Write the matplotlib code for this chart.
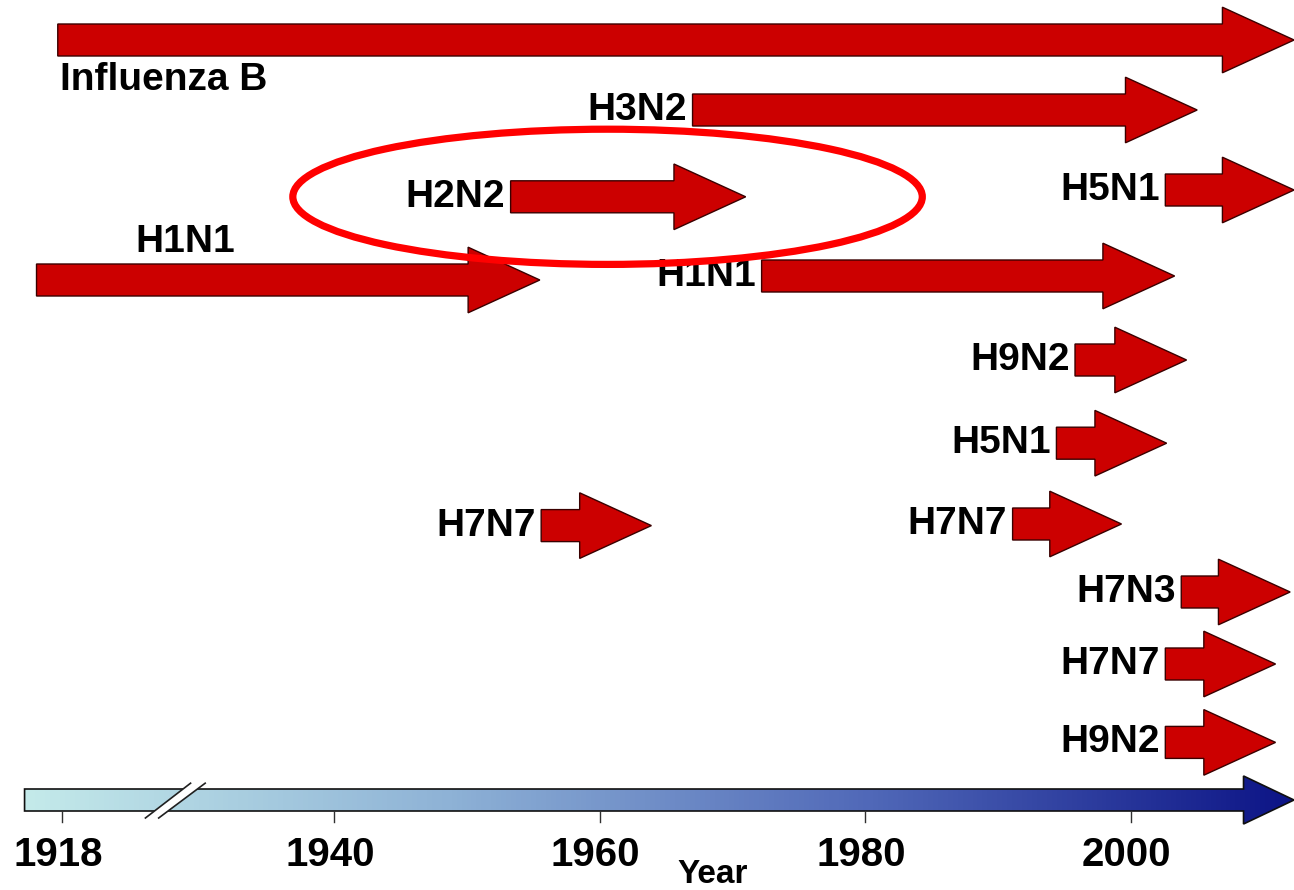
import matplotlib.pyplot as plt
import numpy as np
from matplotlib.patches import FancyArrow, Ellipse, Polygon
from matplotlib.colors import LinearSegmentedColormap

# subtypes, lane (row from top), start year, tip year, label side
names = ['Influenza B', 'H3N2', 'H5N1', 'H2N2', 'H1N1', 'H1N1', 'H9N2',
         'H5N1', 'H7N7', 'H7N7', 'H7N3', 'H7N7', 'H9N2']
lanes = [0.0, 0.875, 1.875, 1.96, 3.0, 2.95, 4.0, 5.04, 6.05, 6.07, 6.9, 7.8, 8.78]
starts = [1919.5, 1967.3, 2002.9, 1953.6, 1917.9, 1972.5, 1996.1,
          1994.7, 1991.4, 1955.9, 2004.1, 2002.9, 2002.9]
ends = [2012.6, 2005.3, 2012.6, 1971.3, 1955.8, 2003.6, 2004.5,
        2003.0, 1999.6, 1964.2, 2012.3, 2011.2, 2011.2]
label_pos = ['below', 'left', 'left', 'left', 'above', 'left', 'left',
             'left', 'left', 'left', 'left', 'left', 'left']

tick_pos = [1919.5, 1940, 1960, 1980, 2000]
tick_labels = ['1918', '1940', '1960', '1980', '2000']

font = ['Liberation Sans', 'DejaVu Sans']
fs = 28

fig = plt.figure(figsize=(12.94, 8.9), dpi=100)
ax = fig.add_axes([0, 0, 1, 1])
ax.set_xlim(1915.15, 2012.59)
ax.set_ylim(10.625, -0.5)
ax.axis('off')

for n, y, s, e, lp in zip(names, lanes, starts, ends, label_pos):
    arr = FancyArrow(s, y, e - s, 0, width=0.4, head_width=0.82, head_length=5.4,
                     length_includes_head=True, facecolor='#cc0000',
                     edgecolor='#3a0000', linewidth=1.0, zorder=3)
    ax.add_patch(arr)
    if lp == 'left':
        ax.text(s - 0.4, y, n, ha='right', va='center', fontsize=fs,
                fontweight='bold', family=font, zorder=4)
    elif lp == 'below':
        ax.text(s + 0.2, y + 0.5, n, ha='left', va='center', fontsize=fs,
                fontweight='bold', family=font, zorder=4)
    else:
        ax.text(s + 11.2, y - 0.47, n, ha='center', va='center', fontsize=fs,
                fontweight='bold', family=font, zorder=4)

# time axis arrow with gradient fill
tl_y = 9.5
tl = FancyArrow(1917.0, tl_y, 2012.59 - 1917.0, 0, width=0.275, head_width=0.6,
                head_length=3.8, length_includes_head=True, facecolor='none',
                edgecolor='#101010', linewidth=1.2, zorder=3)
cmap = LinearSegmentedColormap.from_list('tl', ['#c4eaea', '#8eb2d6', '#5068b8', '#0c1486'])
grad = np.linspace(0, 1, 256).reshape(1, -1)
im = ax.imshow(grad, cmap=cmap, extent=(1917.0, 2012.59, tl_y + 0.3, tl_y - 0.3),
               aspect='auto', zorder=2)
ax.add_patch(tl)
im.set_clip_path(tl)

# axis break
x1, x2, x3, x4 = 1926.1, 1929.5, 1927.1, 1930.6
yb, yt = 9.725, 9.29
ax.add_patch(Polygon([[x1, yb], [x2, yt], [x4, yt], [x3, yb]], closed=True,
                     facecolor='white', edgecolor='none', zorder=4))
ax.plot([x1, x2], [yb, yt], color='#202020', lw=1.2, zorder=5)
ax.plot([x3, x4], [yb, yt], color='#202020', lw=1.2, zorder=5)

for p, lab in zip(tick_pos, tick_labels):
    ax.plot([p + 0.3, p + 0.3], [tl_y + 0.14, tl_y + 0.28], color='#303030', lw=1.0, zorder=3)
    ax.text(p, 10.19, lab, ha='center', va='center', fontsize=29,
            fontweight='bold', family=font)
ax.text(1968.8, 10.43, 'Year', ha='center', va='center', fontsize=24,
        fontweight='bold', family=font)

# highlight ring
ax.add_patch(Ellipse((1960.9, 1.96), 47.4, 1.69, facecolor='none',
                     edgecolor='#ff0000', linewidth=5.2, zorder=6))

fig.savefig('out.png', dpi=100)
